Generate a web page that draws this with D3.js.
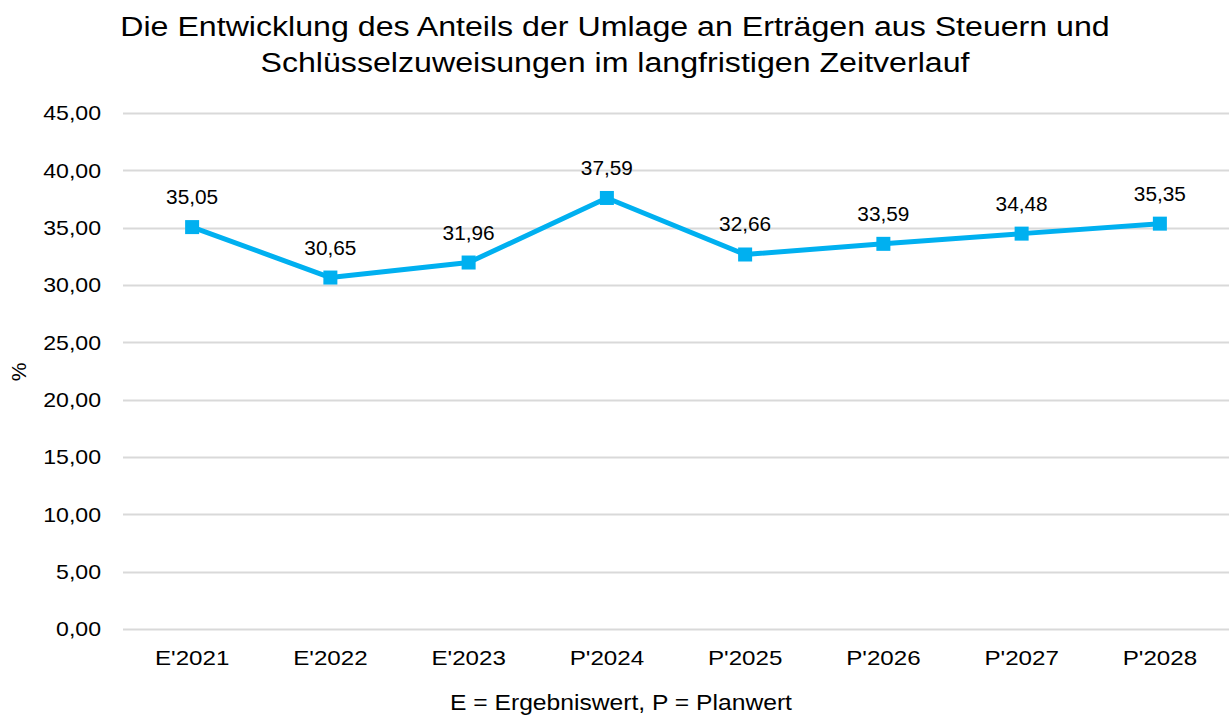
<!DOCTYPE html>
<html>
<head>
<meta charset="utf-8">
<script src="https://cdn.jsdelivr.net/npm/d3@7"></script>
<style>
  body { margin: 0; background: #fff; }
  svg text { font-family: "Liberation Sans", Arial, sans-serif; fill: #000; }
  .grid line { stroke: #d9d9d9; stroke-width: 2; }
</style>
</head>
<body>
<div id="chart"></div>
<script>
// data
var categories = ["E'2021", "E'2022", "E'2023", "P'2024", "P'2025", "P'2026", "P'2027", "P'2028"];
var values = [35.05, 30.65, 31.96, 37.59, 32.66, 33.59, 34.48, 35.35];
var yTicks = [0, 5, 10, 15, 20, 25, 30, 35, 40, 45];
var titleLines = ["Die Entwicklung des Anteils der Umlage an Erträgen aus Steuern und",
                  "Schlüsselzuweisungen im langfristigen Zeitverlauf"];

var W = 1230, H = 715;
var margin = {top: 113, right: 1, bottom: 86, left: 123};
var width = W - margin.left - margin.right,
    height = H - margin.top - margin.bottom;

var fmt = function(v) { return d3.format(".2f")(v).replace('.', ','); };

// the original text is a bit wider than Liberation Sans, stretch it a little
function stretch(sel, k) {
  sel.each(function() {
    var l = this.getComputedTextLength();
    d3.select(this)
      .attr('textLength', l * k)
      .attr('lengthAdjust', 'spacingAndGlyphs');
  });
}

var svg = d3.select('#chart').append('svg')
    .attr('width', W)
    .attr('height', H);

// title
svg.selectAll('.title')
    .data(titleLines).enter()
    .append('text')
    .attr('class', 'title')
    .attr('x', 615)
    .attr('y', function(d, i) { return 36 + i * 36; })
    .attr('text-anchor', 'middle')
    .style('font-size', '27px')
    .text(function(d) { return d; })
    .call(stretch, 1.19);

var g = svg.append('g')
    .attr('transform', 'translate(' + margin.left + ',' + margin.top + ')');

var x = d3.scaleBand()
    .domain(categories)
    .range([0, width]);

var y = d3.scaleLinear()
    .domain([0, 45])
    .range([height, 0]);

// gridlines
g.append('g')
    .attr('class', 'grid')
    .selectAll('line')
    .data(yTicks).enter()
    .append('line')
    .attr('x1', 0)
    .attr('x2', width)
    .attr('y1', function(d) { return Math.round(y(d)) + 0.5; })
    .attr('y2', function(d) { return Math.round(y(d)) + 0.5; });

// y axis
var yAxis = d3.axisLeft(y)
    .tickValues(yTicks)
    .tickSize(0)
    .tickPadding(22)
    .tickFormat(fmt);

g.append('g')
    .call(yAxis)
    .call(function(s) { s.select('.domain').remove(); })
    .selectAll('text')
    .style('font-size', '21px')
    .style('font-family', '"Liberation Sans", Arial, sans-serif')
    .attr('fill', '#000')
    .call(stretch, 1.1);

// x axis
var xAxis = d3.axisBottom(x)
    .tickSize(0)
    .tickPadding(21);

g.append('g')
    .attr('transform', 'translate(0,' + height + ')')
    .call(xAxis)
    .call(function(s) { s.select('.domain').remove(); })
    .selectAll('text')
    .style('font-size', '21px')
    .style('font-family', '"Liberation Sans", Arial, sans-serif')
    .attr('fill', '#000')
    .call(stretch, 1.15);

// axis titles
svg.append('text')
    .attr('transform', 'translate(26,372) rotate(-90)')
    .attr('text-anchor', 'middle')
    .style('font-size', '21px')
    .text('%');

svg.append('text')
    .attr('x', margin.left + width / 2 - 55)
    .attr('y', 710)
    .attr('text-anchor', 'middle')
    .style('font-size', '22px')
    .text('E = Ergebniswert, P = Planwert')
    .call(stretch, 1.12);

// line
var cx = function(d, i) { return x(categories[i]) + x.bandwidth() / 2; };

var line = d3.line()
    .x(cx)
    .y(function(d) { return y(d); });

g.append('path')
    .datum(values)
    .attr('d', line)
    .attr('fill', 'none')
    .attr('stroke', '#00b0f0')
    .attr('stroke-width', 5)
    .attr('stroke-linejoin', 'round');

g.selectAll('.marker')
    .data(values).enter()
    .append('rect')
    .attr('class', 'marker')
    .attr('x', function(d, i) { return cx(d, i) - 7; })
    .attr('y', function(d) { return y(d) - 7; })
    .attr('width', 14)
    .attr('height', 14)
    .attr('fill', '#00b0f0');

g.selectAll('.lbl')
    .data(values).enter()
    .append('text')
    .attr('class', 'lbl')
    .attr('x', cx)
    .attr('y', function(d) { return y(d) - 23; })
    .attr('text-anchor', 'middle')
    .style('font-size', '20px')
    .text(fmt)
    .call(stretch, 1.04);
</script>
</body>
</html>
